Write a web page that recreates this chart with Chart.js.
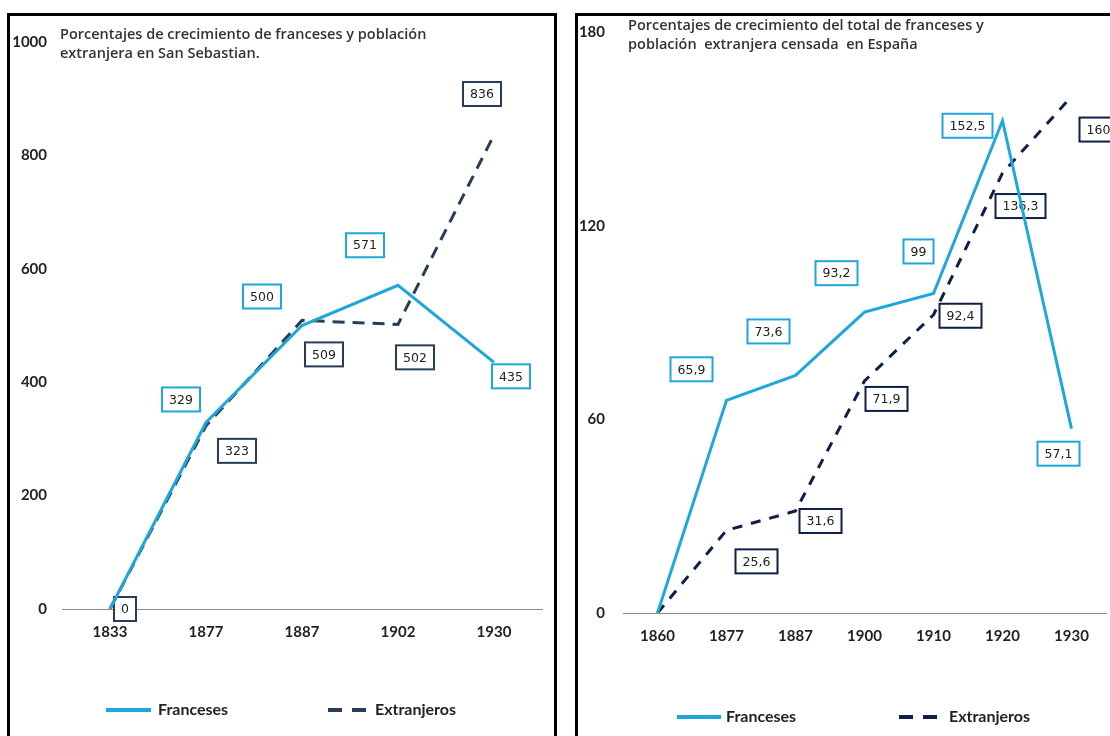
<!DOCTYPE html>
<html>
<head>
<meta charset="utf-8">
<script src="https://cdn.jsdelivr.net/npm/chart.js@4.4.0/dist/chart.umd.min.js"></script>
<style>
  html, body { margin: 0; padding: 0; width: 1110px; height: 736px; overflow: hidden; background: #fff; }
  .panel { position: absolute; border: 3px solid #000; background: #fff; }
  #panel1 { left: 7px; top: 13px; width: 544px; height: 730px; }
  #panel2 { left: 575px; top: 13px; width: 594px; height: 730px; }
  canvas { display: block; }
</style>
</head>
<body>
<div class="panel" id="panel1"><canvas id="chartSS" width="544" height="730"></canvas></div>
<div class="panel" id="panel2"><canvas id="chartES" width="594" height="730"></canvas></div>
<script>
// San Sebastian
const ssYears = ['1833', '1877', '1887', '1902', '1930'];
const ssFranceses = [0, 329, 500, 571, 435];
const ssExtranjeros = [0, 323, 509, 502, 836];
const ssTitle = ['Porcentajes de crecimiento de franceses y población', 'extranjera en San Sebastian.'];

// España
const esYears = ['1860', '1877', '1887', '1900', '1910', '1920', '1930'];
const esFranceses = [0, 65.9, 73.6, 93.2, 99, 152.5, 57.1];
const esExtranjeros = [0, 25.6, 31.6, 71.9, 92.4, 136.3, 160];
const esTitle = ['Porcentajes de crecimiento del total de franceses y', 'población  extranjera censada  en España'];

const seriesNames = ['Franceses', 'Extranjeros'];

const franColor = '#1fa7db';
const extColorSS = '#283d58';
const extColorES = '#0f1f47';

// boxed value labels, placed with a small offset from each point
const boxLabels = {
    id: 'boxLabels',
    beforeDatasetsDraw(chart, args, opts) {
        const ctx = chart.ctx;
        ctx.save();
        ctx.font = '12.5px "DejaVu Sans"';
        ctx.textAlign = 'center';
        ctx.textBaseline = 'middle';
        chart.data.datasets.forEach((ds, di) => {
            const meta = chart.getDatasetMeta(di);
            const offs = opts.offsets[di];
            meta.data.forEach((pt, i) => {
                if (!offs[i]) return;
                const txt = String(ds.data[i]).replace('.', ',');
                const x = pt.x + offs[i][0];
                const y = pt.y + offs[i][1];
                const w = Math.round(ctx.measureText(txt).width + 14);
                const h = 24;
                ctx.fillStyle = '#fff';
                ctx.fillRect(x - w / 2, y - h / 2, w, h);
                ctx.strokeStyle = ds.borderColor;
                ctx.lineWidth = 2;
                ctx.strokeRect(x - w / 2, y - h / 2, w, h);
                ctx.fillStyle = '#222';
                ctx.fillText(txt, x, y + 1);
            });
        });
        ctx.restore();
    }
};

// title text and legend drawn by hand
const extras = {
    id: 'extras',
    afterDraw(chart, args, opts) {
        const ctx = chart.ctx;
        ctx.save();
        ctx.font = '600 14.5px "Open Sans"';
        ctx.fillStyle = '#333';
        ctx.textBaseline = 'middle';
        ctx.textAlign = 'left';
        opts.title.forEach((line, i) => {
            ctx.fillText(line, opts.titleX, opts.titleY + i * 19);
        });

        ctx.font = 'bold 16px Lato';
        ctx.fillStyle = '#222';
        const ly = opts.legendY;
        chart.data.datasets.forEach((ds, di) => {
            const item = opts.legend[di];
            ctx.strokeStyle = ds.borderColor;
            ctx.lineWidth = 4;
            ctx.setLineDash(di === 1 ? [14, 10] : []);
            ctx.beginPath();
            ctx.moveTo(item[0], ly);
            ctx.lineTo(item[1], ly);
            ctx.stroke();
            ctx.setLineDash([]);
            ctx.fillText(ds.label, item[2], ly);
        });
        ctx.restore();
    }
};

function makeChart(id, years, fran, ext, extColor, dash, yMax, yStep, layout) {
    const ctx = document.getElementById(id).getContext('2d');
    return new Chart(ctx, {
        type: 'line',
        data: {
            labels: years,
            datasets: [{
                label: seriesNames[0],
                data: fran,
                borderColor: franColor,
                borderWidth: 3,
                pointRadius: 0,
                tension: 0
            }, {
                label: seriesNames[1],
                data: ext,
                borderColor: extColor,
                borderWidth: 3,
                borderDash: dash,
                pointRadius: 0,
                tension: 0
            }]
        },
        options: {
            responsive: false,
            animation: false,
            devicePixelRatio: 1,
            layout: { padding: { left: 0, right: layout.padRight, top: layout.padTop, bottom: 0 } },
            scales: {
                x: {
                    offset: true,
                    grid: { display: false, drawTicks: false },
                    border: { display: true, color: '#8c8c8c', width: 1 },
                    ticks: {
                        padding: layout.xPad,
                        color: '#222',
                        font: { family: 'Lato', weight: 'bold', size: 15 }
                    },
                    afterFit(scale) { scale.height = layout.xHeight; }
                },
                y: {
                    min: 0,
                    max: yMax,
                    grid: { display: false, drawTicks: false },
                    border: { display: false },
                    ticks: {
                        stepSize: yStep,
                        padding: layout.yPad,
                        color: '#222',
                        font: { family: 'Lato', weight: 'bold', size: 15 },
                        callback: (v) => String(v)
                    },
                    afterFit(scale) {
                        scale.width = layout.yWidth;
                        scale.paddingTop = 0;
                        scale.paddingBottom = 0;
                    }
                }
            },
            plugins: {
                legend: { display: false },
                tooltip: { enabled: false },
                boxLabels: { offsets: layout.offsets },
                extras: {
                    title: layout.title,
                    titleX: layout.titleX,
                    titleY: layout.titleY,
                    legend: layout.legend,
                    legendY: layout.legendY
                }
            }
        },
        plugins: [boxLabels, extras]
    });
}

makeChart('chartSS', ssYears, ssFranceses, ssExtranjeros, extColorSS, [12, 8], 1000, 200, {
    padRight: 12, padTop: 26, xHeight: 137, yWidth: 52, yPad: 15, xPad: 14,
    title: ssTitle, titleX: 50, titleY: 19,
    legend: [[96, 141, 148], [318, 357, 365]], legendY: 694,
    offsets: [
        [null, [-25, -23], [-40, -29], [-33, -40], [17, 14]],
        [[15, 0], [31, 25], [22, 34], [17, 33], [-12, -41]]
    ]
});

makeChart('chartES', esYears, esFranceses, esExtranjeros, extColorES, [10, 9], 180, 60, {
    padRight: 66, padTop: 16, xHeight: 133, yWidth: 45, yPad: 18, xPad: 14,
    title: esTitle, titleX: 50, titleY: 10,
    legend: [[99, 143, 148], [321, 363, 371]], legendY: 701,
    offsets: [
        [null, [-35, -31], [-27, -44], [-28, -39], [-15, -42], [-35, 5], [-13, 25]],
        [null, [30, 31], [25, 10], [22, 18], [27, 1], [18, 33], [27, 33]]
    ]
});
</script>
</body>
</html>
